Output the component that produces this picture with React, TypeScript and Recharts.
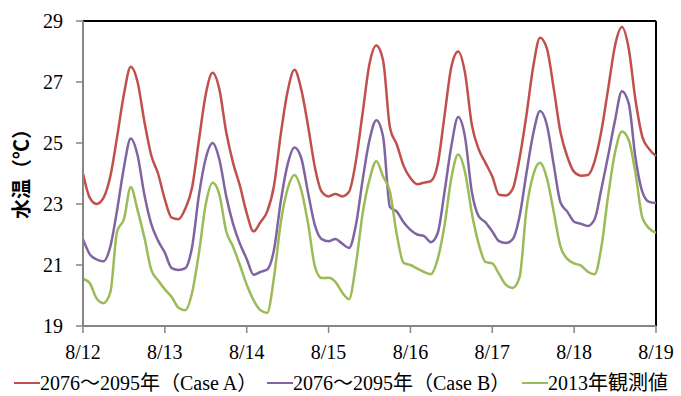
import React from 'react';
import { LineChart, Line, XAxis, YAxis, ReferenceLine } from 'recharts';

const dayLabels = ['8/12', '8/13', '8/14', '8/15', '8/16', '8/17', '8/18', '8/19'];
const yTicks = [19, 21, 23, 25, 27, 29];
const seriesNames = ['2076～2095年（Case A）', '2076～2095年（Case B）', '2013年観測値'];
const seriesColors = ['#C0504D', '#8064A2', '#9BBB59'];

// values every 2 hours from 8/12 00:00 to 8/19 00:00
const caseA = [
  24.0, 23.2, 23.0, 23.2, 23.9, 25.2, 26.6, 27.5, 27.0, 25.7, 24.6, 24.0,
  23.15, 22.55, 22.5, 22.85, 23.55, 25.1, 26.6, 27.3, 26.75, 25.35, 24.35, 23.6,
  22.7, 22.1, 22.4, 22.75, 23.6, 25.3, 26.7, 27.4, 26.75, 25.55, 24.2, 23.4,
  23.25, 23.33, 23.25, 23.4, 24.4, 26.0, 27.6, 28.2, 27.7, 25.5, 24.95, 24.25,
  23.85, 23.65, 23.7, 23.75, 24.3, 25.9, 27.5, 28.0, 27.3, 25.6, 24.8, 24.35,
  23.9, 23.3, 23.28, 23.5, 24.5, 25.9, 27.5, 28.45, 28.1, 26.8, 25.35, 24.55,
  24.05, 23.93, 23.95, 24.4, 25.4, 26.8, 28.2, 28.8, 28.1, 26.4, 25.2, 24.8, 24.57,
];
const caseB = [
  21.85, 21.35, 21.18, 21.12, 21.6, 22.8, 24.2, 25.15, 24.6, 23.3, 22.35, 21.8,
  21.4, 20.9, 20.84, 20.9, 21.6, 23.3, 24.5, 25.0, 24.45, 23.25, 22.35, 21.7,
  21.2, 20.68, 20.77, 20.85, 21.5, 23.1, 24.3, 24.85, 24.5, 23.36, 22.3, 21.85,
  21.78, 21.85, 21.7, 21.56, 22.3, 23.8, 25.1, 25.75, 25.2, 22.9, 22.75, 22.4,
  22.15, 22.0, 21.95, 21.75, 22.05, 23.4, 24.9, 25.85, 25.2, 23.4, 22.6, 22.4,
  22.1, 21.78, 21.72, 21.85, 22.6, 24.0, 25.3, 26.05, 25.6, 24.3, 23.05, 22.75,
  22.42, 22.35, 22.28, 22.5, 23.5, 24.6, 25.75, 26.7, 26.3, 24.5, 23.4, 23.07, 23.03,
];
const observed = [
  20.55, 20.4, 19.9, 19.75, 20.1, 22.1, 22.5, 23.55, 22.8, 21.9, 20.85, 20.5,
  20.2, 19.95, 19.6, 19.52, 20.1, 21.4, 23.0, 23.7, 23.3, 22.1, 21.6, 21.0,
  20.35, 19.85, 19.52, 19.43, 20.6, 22.4, 23.5, 23.95, 23.45, 22.35, 20.95, 20.57,
  20.58, 20.45, 20.1, 19.88, 21.0, 22.7, 23.8, 24.4, 23.9, 23.4, 22.0, 21.07,
  21.0, 20.88, 20.77, 20.7, 21.2, 22.3, 23.85, 24.62, 24.05, 22.7, 21.7, 21.1,
  21.05, 20.7, 20.35, 20.25, 20.6, 22.8, 23.95, 24.35, 23.85, 22.75, 21.6, 21.2,
  21.05, 20.98, 20.78, 20.7, 21.6, 23.3, 24.7, 25.38, 25.1, 24.0, 22.55, 22.2, 22.05,
];

const FONT = "'Liberation Serif', 'Times New Roman', serif, 'Noto Sans CJK JP'";
const AXIS_GRAY = '#868686';
const legendLeft = [14, 267, 522];

const XTick = (props: any) => (
  <text
    x={props.x}
    y={props.y}
    dy="0.71em"
    textAnchor="middle"
    fontSize={20}
    fontFamily="Liberation Serif"
    fill="#000"
  >
    {dayLabels[props.payload.value]}
  </text>
);

const YTick = (props: any) => (
  <text
    x={props.x}
    y={props.y}
    dy="0.355em"
    textAnchor="end"
    fontSize={20}
    fontFamily="Liberation Serif"
    fill="#000"
  >
    {props.payload.value}
  </text>
);

export default function App() {
  const data = caseA.map((a, i) => ({ t: i / 12, a, b: caseB[i], o: observed[i] }));
  const xTicks = dayLabels.map((_, i) => i);
  const keys = ['a', 'b', 'o'];
  return (
    <div style={{ position: 'absolute', left: 0, top: 0, width: 681, height: 396, background: '#fff', fontFamily: FONT }}>
      <LineChart width={681} height={396} data={data} margin={{ top: 21, right: 25, bottom: 40, left: 0 }}>
        <XAxis
          dataKey="t"
          type="number"
          domain={[0, 7]}
          ticks={xTicks}
          interval={0}
          height={30}
          tickSize={7}
          tickMargin={12}
          axisLine={{ stroke: AXIS_GRAY, strokeWidth: 2 }}
          tickLine={{ stroke: AXIS_GRAY, strokeWidth: 1.5 }}
          tick={XTick}
        />
        <YAxis
          type="number"
          domain={[19, 29]}
          ticks={yTicks}
          interval={0}
          width={83}
          tickSize={7}
          tickMargin={13}
          axisLine={{ stroke: AXIS_GRAY, strokeWidth: 2 }}
          tickLine={{ stroke: AXIS_GRAY, strokeWidth: 1.5 }}
          tick={YTick}
          label={{
            content: () => (
              <text
                x={20}
                y={169}
                transform="rotate(-90 20 169)"
                textAnchor="middle"
                dominantBaseline="central"
                fontSize={20}
                fontWeight="bold"
                fontFamily="Noto Sans CJK JP"
                fill="#000"
              >
                水温（℃）
              </text>
            ),
          }}
        />
        <ReferenceLine y={29} stroke="#000" strokeWidth={2} />
        <ReferenceLine x={7} stroke="#000" strokeWidth={2} />
        {keys.map((k, idx) => (
          <Line
            key={k}
            dataKey={k}
            name={seriesNames[idx]}
            type="monotone"
            stroke={seriesColors[idx]}
            strokeWidth={2.5}
            dot={false}
            activeDot={false}
            isAnimationActive={false}
          />
        ))}
      </LineChart>
      {seriesNames.map((n, idx) => (
        <div
          key={n}
          style={{
            position: 'absolute',
            left: legendLeft[idx],
            top: 371,
            display: 'flex',
            alignItems: 'center',
            fontSize: 20,
            fontFamily: FONT,
            color: '#000',
            whiteSpace: 'nowrap',
            lineHeight: '24px',
          }}
        >
          <span style={{ display: 'inline-block', width: 26, height: 2.5, background: seriesColors[idx] }} />
          <span>{n}</span>
        </div>
      ))}
    </div>
  );
}
